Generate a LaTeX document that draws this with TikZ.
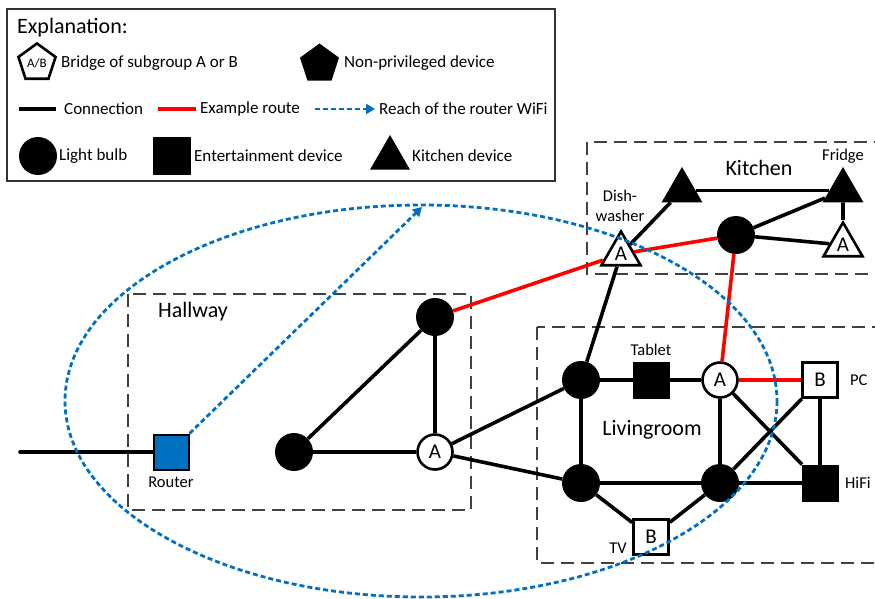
\documentclass[tikz,border=0pt]{standalone}
\usepackage{fontspec}
\setmainfont{Carlito}
\usetikzlibrary{shapes.geometric,arrows.meta}
\definecolor{wifiblue}{HTML}{0070C0}
\definecolor{routered}{HTML}{FF0000}
\definecolor{roomgray}{HTML}{404040}
\definecolor{framegray}{HTML}{333333}

\begin{document}
\begin{tikzpicture}[x=1pt,y=-1pt,
  bigfont/.style={font=\fontsize{22}{26}\selectfont},
  smallfont/.style={font=\fontsize{16.5}{20}\selectfont},
  legfont/.style={font=\fontsize{17}{20}\selectfont},
  txt/.style={inner sep=0pt},
  bulb/.style={circle,fill=black,minimum size=38pt,inner sep=0pt},
  bridgecirc/.style={circle,draw=black,line width=2.6pt,fill=white,minimum size=35pt,inner sep=0pt,font=\fontsize{21}{24}\selectfont},
  ent/.style={rectangle,draw=black,fill=black,line width=1pt,minimum size=36pt,inner sep=0pt},
  bridgebox/.style={rectangle,draw=black,line width=2.6pt,fill=white,minimum size=35pt,inner sep=0pt,font=\fontsize{21}{24}\selectfont},
  kit/.style={regular polygon,regular polygon sides=3,fill=black,minimum size=47pt,inner sep=0pt},
  bridgetri/.style={regular polygon,regular polygon sides=3,draw=black,line width=2.6pt,fill=white,minimum size=45pt,inner sep=0pt,font=\fontsize{21}{24}\selectfont},
  router/.style={rectangle,draw=black,line width=2pt,fill=wifiblue,minimum size=35pt,inner sep=0pt},
  link/.style={line width=3.6pt,black},
  route/.style={line width=3.6pt,routered},
  wifi/.style={line width=2.8pt,wifiblue,dash pattern=on 5pt off 3pt},
  wifiarrow/.style={wifi,-{Triangle[length=9pt,width=10pt]}},
  room/.style={draw=roomgray,line width=1.6pt,dash pattern=on 13pt off 7pt},
]
\useasboundingbox (0,0) rectangle (875,598);

% ---------------- legend ----------------
\draw[framegray,line width=1.8pt] (7,9) rectangle (555,181);
\node[txt,bigfont,anchor=west] (legtitle) at (17,28) {Explanation:};

\node[regular polygon,regular polygon sides=5,draw=black,line width=2.6pt,fill=white,
      minimum size=39pt,inner sep=0pt,font=\fontsize{13}{15}\selectfont] (legbridge) at (37,63) {A/B};
\node[txt,legfont,anchor=west] (legbridgetxt) at (61,63) {Bridge of subgroup A or B};
\node[regular polygon,regular polygon sides=5,fill=black,minimum size=41pt,inner sep=0pt] (legnonpriv) at (319.5,64) {};
\node[txt,legfont,anchor=west] (legnonprivtxt) at (344,63) {Non-privileged device};

\coordinate (lcA) at (19,109);  \coordinate (lcB) at (56,109);
\draw[link] (lcA) -- (lcB);
\node[txt,legfont,anchor=west] (legconn) at (64,109) {Connection};
\coordinate (lrA) at (158,109); \coordinate (lrB) at (196,109);
\draw[route] (lrA) -- (lrB);
\node[txt,legfont,anchor=west] (legroute) at (200,109) {Example route};
\coordinate (lwA) at (315,109); \coordinate (lwB) at (375,109);
\draw[wifiarrow] (lwA) -- (lwB);
\node[txt,legfont,anchor=west] (legwifi) at (379,109) {Reach of the router WiFi};

\node[bulb] (legbulb) at (38,156) {};
\node[txt,legfont,anchor=west] (legbulbtxt) at (59,156) {Light bulb};
\node[ent,minimum size=37pt] (legent) at (172,156) {};
\node[txt,legfont,anchor=west] (legenttxt) at (194,156) {Entertainment device};
\node[kit,minimum size=46pt] (legkit) at (390,158) {};
\node[txt,legfont,anchor=west] (legkittxt) at (412,156) {Kitchen device};

% ---------------- rooms ----------------
\draw[room] (128,294) rectangle (471,510);
\node[txt,bigfont] (hallwaylbl) at (193,312) {Hallway};
\draw[room] (587,142) rectangle (885,274);
\node[txt,bigfont] (kitchenlbl) at (759,168) {Kitchen};
\draw[room] (537,327) rectangle (885,563);
\node[txt,bigfont] (livinglbl) at (652,430) {Livingroom};

% ---------------- hallway devices ----------------
\coordinate (wan) at (20,452);
\node[router] (rt) at (171,452) {};
\node[txt,smallfont] (rtlbl) at (171,482) {Router};
\node[bulb] (h1) at (294,452) {};
\node[bulb] (h2) at (435,317) {};
\node[bridgecirc] (h3) at (435,452) {A};

% ---------------- kitchen devices ----------------
\node[kit] (k1) at (682,190.5) {};
\node[kit] (fridge) at (843,190.5) {};
\node[txt,smallfont] (fridgelbl) at (843,156) {Fridge};
\node[bridgetri] (dw) at (621,254) {A};
\node[txt,smallfont,align=center] (dwlbl) at (620,206) {Dish-\\washer};
\node[bulb] (kb) at (736,235) {};
\node[bridgetri] (ka) at (843,245) {A};

% ---------------- livingroom devices ----------------
\node[bulb] (l1) at (581,380) {};
\node[ent] (tab) at (651,380) {};
\node[txt,smallfont] (tablbl) at (651,350) {Tablet};
\node[bridgecirc] (la) at (720,380) {A};
\node[bridgebox] (pc) at (820,380) {B};
\node[txt,smallfont,anchor=west] (pclbl) at (850,380) {PC};
\node[bulb] (l2) at (581,483) {};
\node[bulb] (l3) at (720,483) {};
\node[ent] (hifi) at (820,483) {};
\node[txt,smallfont,anchor=west] (hifilbl) at (845,483) {HiFi};
\node[bridgebox] (tv) at (651,537) {B};
\node[txt,smallfont] (tvlbl) at (618,548) {TV};

% ---------------- connections ----------------
\draw[link,line cap=round] (wan) -- (rt);
\draw[link] (h1) -- (h2);
\draw[link] (h1) -- (h3);
\draw[link] (h2) -- (h3);
\draw[link] (h3) -- (l1);
\draw[link] (h3) -- (l2);

\draw[link] (dw) -- (k1);
\draw[link] (k1) -- (fridge);
\draw[link] (kb) -- (fridge);
\draw[link] (kb) -- (ka);
\draw[link] (fridge) -- (ka);
\draw[link] (dw) -- (l1);

\draw[link] (l1) -- (tab);
\draw[link] (tab) -- (la);
\draw[link] (l1) -- (l2);
\draw[link] (la) -- (l3);
\draw[link] (l2) -- (l3);
\draw[link] (l3) -- (hifi);
\draw[link] (la) -- (hifi);
\draw[link] (l3) -- (pc);
\draw[link] (pc) -- (hifi);
\draw[link] (l2) -- (tv);
\draw[link] (tv) -- (l3);

% example route
\draw[route] (h2) -- (dw);
\draw[route] (dw) -- (kb);
\draw[route] (kb) -- (la);
\draw[route] (la) -- (pc);

% ---------------- WiFi reach ----------------
\coordinate (wifitop) at (422,207);
\draw[wifiarrow] (rt.north east) -- (wifitop);
\draw[wifi] (421,401) ellipse [x radius=356, y radius=196];
\end{tikzpicture}
\end{document}
